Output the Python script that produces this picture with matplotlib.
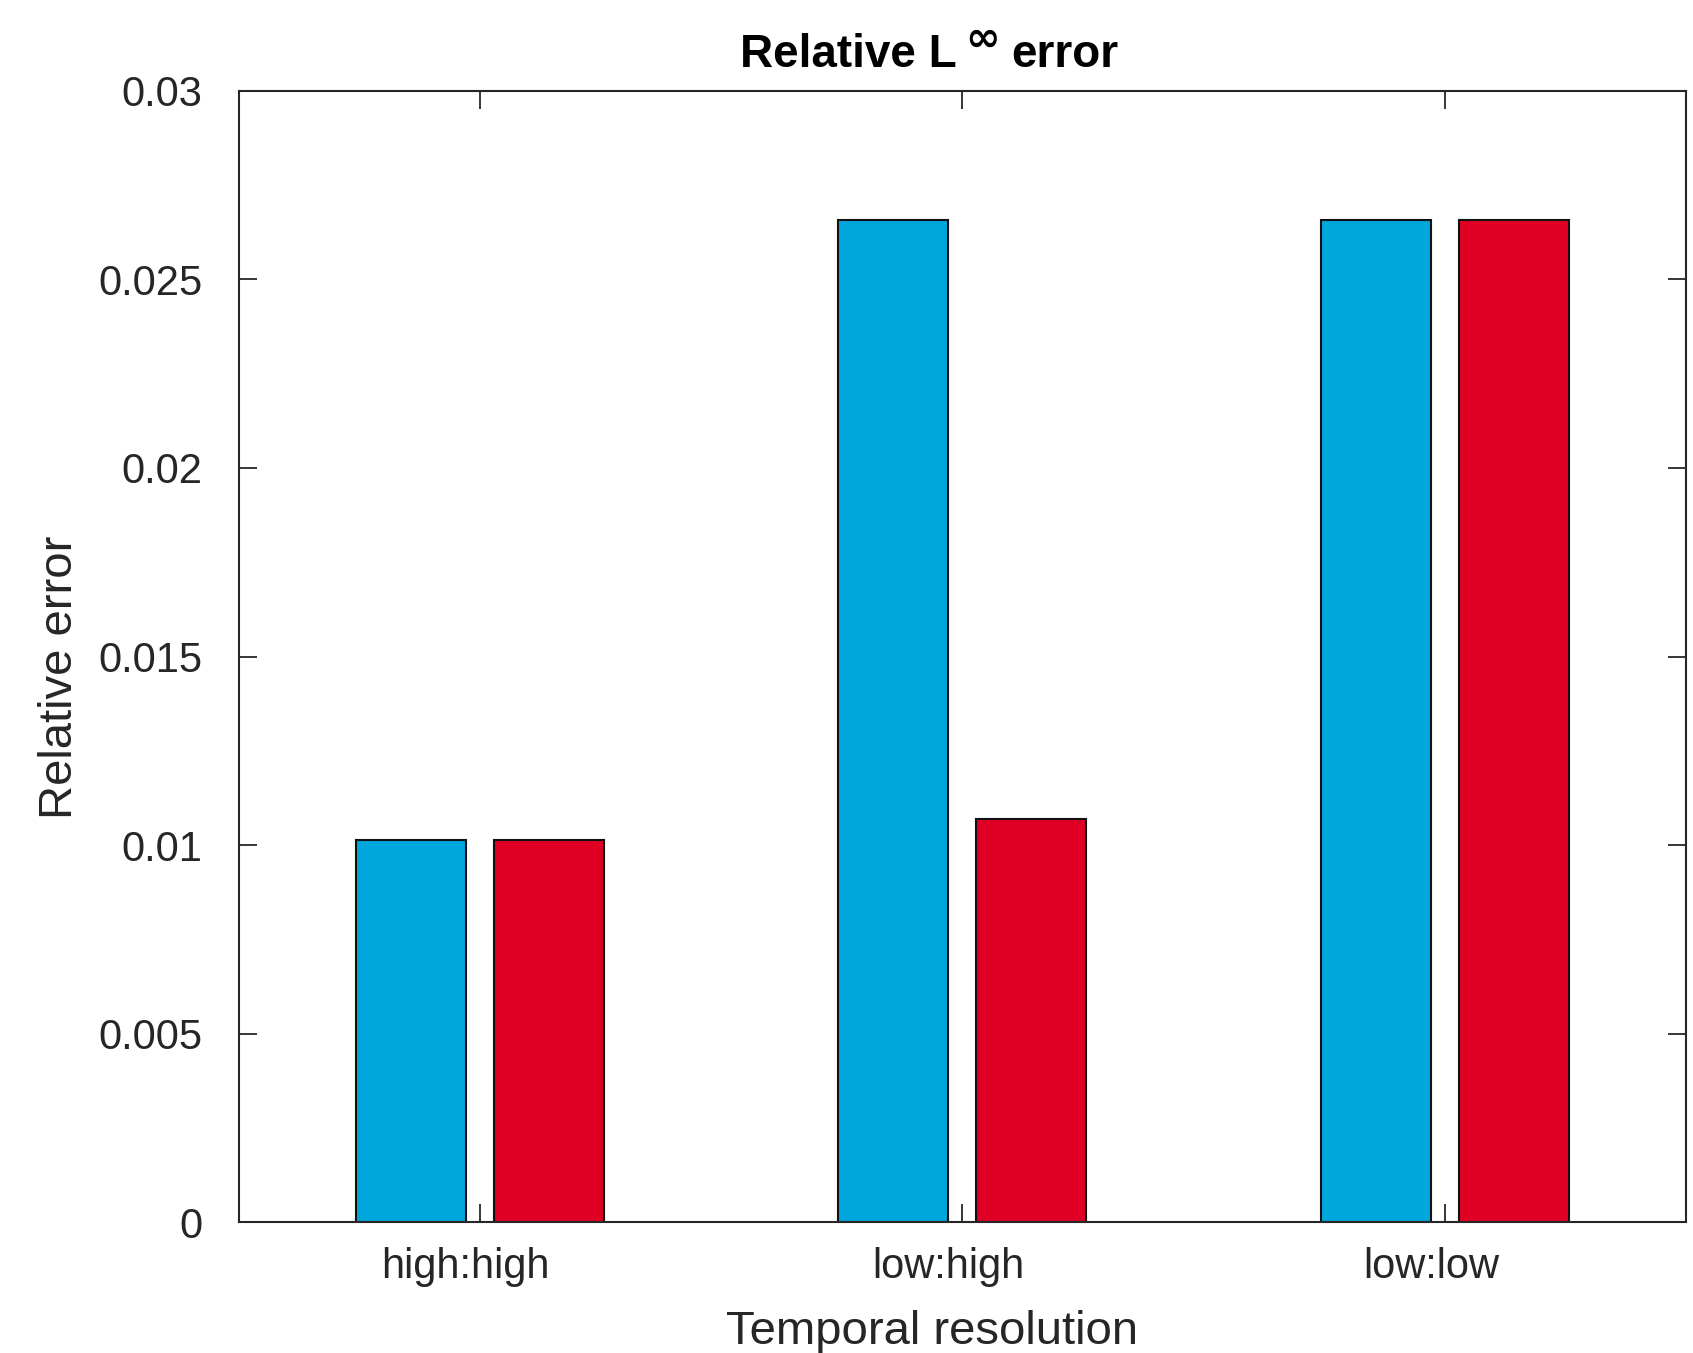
import matplotlib
matplotlib.use("Agg")
import matplotlib.pyplot as plt
import numpy as np

categories = ["high:high", "low:high", "low:low"]
series_blue = [0.01013, 0.02656, 0.02656]
series_red = [0.01013, 0.01068, 0.02656]
yticks = [0, 0.005, 0.01, 0.015, 0.02, 0.025, 0.03]
yticklabels = ["0", "0.005", "0.01", "0.015", "0.02", "0.025", "0.03"]

plt.rcParams['font.family'] = ['Liberation Sans', 'DejaVu Sans']

W, H = 1693, 1353
fig = plt.figure(figsize=(W / 100, H / 100), dpi=100)
ax_l, ax_r, ax_t, ax_b = 238.6, 1686.0, 90.7, 1222.3
ax = fig.add_axes([ax_l / W, 1 - ax_b / H, (ax_r - ax_l) / W, (ax_b - ax_t) / H])
aw, ah = ax_r - ax_l, ax_b - ax_t

x = np.arange(1, len(categories) + 1)
bw = 0.228
off = 0.143
ax.bar(x - off, series_blue, width=bw, color='#00a7dd', edgecolor='#111111', linewidth=1.5, zorder=2)
ax.bar(x + off, series_red, width=bw, color='#e00025', edgecolor='#111111', linewidth=1.5, zorder=2)

ax.set_xlim(0.5, 3.5)
ax.set_ylim(0, 0.03)
# major ticks at group centres (marks only), labels slightly to the left (as in reference)
ax.set_xticks(x)
ax.set_xticklabels([])
ax.set_xticks(x - 0.029, minor=True)
ax.set_xticklabels(categories, minor=True, fontsize=30, color='#262626')
ax.tick_params(axis='x', which='minor', length=0, pad=18, top=False)
ax.set_yticks(yticks)
ax.set_yticklabels(yticklabels, fontsize=30, color='#262626')

ax.tick_params(which='major', direction='in', length=13, width=1.3, top=True, right=True, colors='#262626')
ax.tick_params(axis='y', pad=26)
for sp in ax.spines.values():
    sp.set_linewidth(1.5)
    sp.set_color('#262626')

ax.set_xlabel("Temporal resolution", fontsize=34, color='#262626')
ax.xaxis.set_label_coords((932.5 - ax_l) / aw, -(1309.5 - ax_b) / ah)
ax.set_ylabel("Relative error", fontsize=34, color='#262626')
ax.yaxis.set_label_coords((81.5 - ax_l) / aw, (ax_b - 677.0) / ah)

# title built from pieces so the superscript infinity has the reference's size
def px(xp, yp):
    return xp / W, 1 - yp / H

fig.text(*px(957, 67), "Relative L", fontsize=33, fontweight='bold', ha='right', va='baseline')
fig.text(*px(982.5, 50.5), "\u221e", fontsize=30, fontweight='bold', ha='center', va='baseline',
         family=['DejaVu Sans'])
fig.text(*px(1011, 67), "error", fontsize=33, fontweight='bold', ha='left', va='baseline')

fig.savefig("out.png", dpi=100)
